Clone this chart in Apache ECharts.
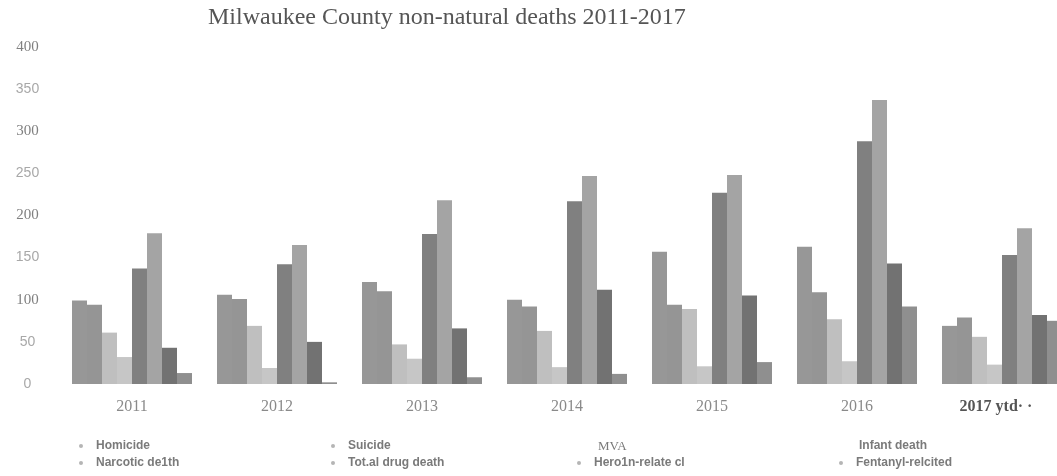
<!DOCTYPE html>
<html>
<head>
<meta charset="utf-8">
<script src="https://cdn.jsdelivr.net/npm/echarts@6/dist/echarts.min.js"></script>
<style>
  html, body { margin: 0; padding: 0; background: #fff; }
  #chart { width: 1057px; height: 476px; }
</style>
</head>
<body>
<div id="chart"></div>
<script>
// Milwaukee County non-natural deaths by year and cause
const years = ['2011', '2012', '2013', '2014', '2015', '2016', '2017 ytd'];
const yTicks = [0, 50, 100, 150, 200, 250, 300, 350, 400];

const homicide   = [99, 106, 121, 100, 157, 163, 69];
const suicide    = [94, 101, 110, 92, 94, 109, 79];
const mva        = [61, 69, 47, 63, 89, 77, 56];
const infant     = [32, 19, 30, 20, 21, 27, 23];
const narcotic   = [137, 142, 178, 217, 227, 288, 153];
const totalDrug  = [179, 165, 218, 247, 248, 337, 185];
const heroin     = [43, 50, 66, 112, 105, 143, 82];
const fentanyl   = [13, 2, 8, 12, 26, 92, 75];

const seriesNames = ['Homicide', 'Suicide', 'MVA', 'Infant death',
  'Narcotic de1th', 'Tot.al drug death', 'Hero1n-relate cl', 'Fentanyl-relcited'];
const seriesData = [homicide, suicide, mva, infant, narcotic, totalDrug, heroin, fentanyl];
const seriesColors = ['#979797', '#959595', '#bfbfbf', '#c6c6c6',
  '#808080', '#a4a4a4', '#727272', '#8f8f8f'];

// legend slots: [left, top, show bullet, font family]
const legendSlots = [
  [74, 435, true, 'Liberation Sans'],
  [326, 435, true, 'Liberation Sans'],
  [576, 435, false, 'Liberation Serif'],
  [837, 435, false, 'Liberation Sans'],
  [74, 452, true, 'Liberation Sans'],
  [326, 452, true, 'Liberation Sans'],
  [572, 452, true, 'Liberation Sans'],
  [834, 452, true, 'Liberation Sans']
];

const legends = seriesNames.map((name, i) => {
  const [left, top, bullet, family] = legendSlots[i];
  return {
    left: left, top: top,
    itemWidth: 4, itemHeight: 4, itemGap: 0,
    icon: 'circle',
    selectedMode: false,
    data: [{ name: name, itemStyle: { color: bullet ? '#b5b5b5' : 'rgba(0,0,0,0)' } }],
    textStyle: {
      color: '#7a7a7a', fontSize: family === 'Liberation Serif' ? 13 : 12, fontFamily: family,
      fontWeight: family === 'Liberation Sans' ? 'bold' : 'normal',
      padding: [0, 0, 0, 8]
    }
  };
});

const chart = echarts.init(document.getElementById('chart'), null, { renderer: 'canvas' });
chart.setOption({
  animation: false,
  backgroundColor: '#ffffff',
  title: {
    text: 'Milwaukee County non-natural deaths 2011-2017',
    left: 203, top: 1,
    textStyle: { fontFamily: 'Liberation Serif', fontWeight: 'normal', fontSize: 24, color: '#555555' }
  },
  legend: legends,
  // the plot runs past the right edge, so the last group is clipped
  grid: {
    left: 59.5, top: 47, width: 1015, height: 337,
    containLabel: false, outerBoundsMode: 'none'
  },
  xAxis: {
    type: 'category',
    data: years,
    axisLine: { show: false },
    axisTick: { show: false },
    axisLabel: {
      margin: 15,
      fontFamily: 'Liberation Serif', fontSize: 16, color: '#8a8a8a',
      formatter: v => v === '2017 ytd' ? '{b|2017 ytd· ·}' : v,
      rich: { b: { fontFamily: 'Liberation Serif', fontSize: 16, fontWeight: 'bold', color: '#555', padding: [0, 12, 0, 0] } }
    }
  },
  yAxis: {
    type: 'value',
    min: yTicks[0], max: yTicks[yTicks.length - 1], interval: 50,
    splitLine: { show: false },
    axisLine: { show: false },
    axisTick: { show: false },
    axisLabel: {
      align: 'center', margin: 32,
      formatter: v => (v % 100 === 0 && v !== 0) ? '{h|' + v + '}' : '{f|' + v + '}',
      rich: {
        h: { fontFamily: 'Liberation Serif', fontSize: 15, color: '#808080' },
        f: { fontFamily: 'Liberation Sans', fontSize: 14, color: '#a8a8a8' }
      }
    }
  },
  series: seriesNames.map((name, i) => ({
    name: name,
    type: 'bar',
    data: seriesData[i],
    barGap: '0%',
    barWidth: 15,
    itemStyle: { color: seriesColors[i] }
  }))
});
</script>
</body>
</html>
